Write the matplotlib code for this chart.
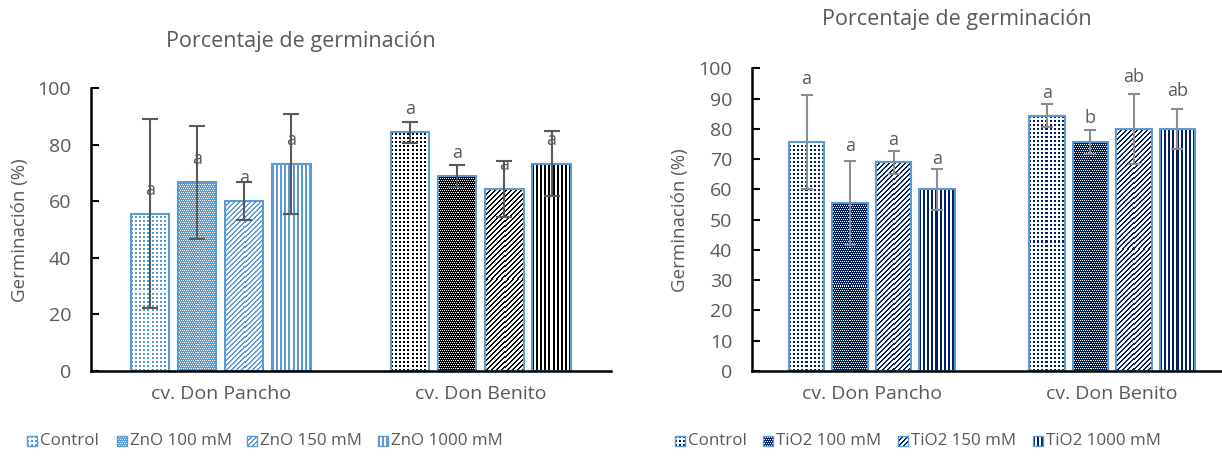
import numpy as np
import matplotlib
matplotlib.use('Agg')
import matplotlib.pyplot as plt
from matplotlib.colors import ListedColormap
from matplotlib.patches import Rectangle

plt.rcParams['font.family'] = ['Open Sans', 'DejaVu Sans']

# germination data (%), one list per treatment: [Don Pancho, Don Benito]
cultivars = ['cv. Don Pancho', 'cv. Don Benito']

zno_names = ['Control', 'ZnO 100 mM', 'ZnO 150 mM', 'ZnO 1000 mM']
zno_mean = [[55.6, 84.4], [66.7, 68.9], [60.0, 64.4], [73.3, 73.3]]
zno_err = [[33.4, 3.8], [20.0, 3.8], [6.7, 10.0], [17.6, 11.5]]
zno_letters = [['a', 'a'], ['a', 'a'], ['a', 'a'], ['a', 'a']]
zno_letter_y = [[64.0, 92.6], [74.9, 77.0], [68.2, 72.8], [81.6, 81.6]]

tio_names = ['Control', 'TiO2 100 mM', 'TiO2 150 mM', 'TiO2 1000 mM']
tio_mean = [[75.6, 84.4], [55.6, 75.6], [68.9, 80.0], [60.0, 80.0]]
tio_err = [[15.5, 3.8], [13.9, 3.9], [3.8, 11.6], [6.7, 6.7]]
tio_letters = [['a', 'a'], ['a', 'b'], ['a', 'ab'], ['a', 'ab']]
tio_letter_y = [[96.6, 91.8], [74.3, 83.5], [76.2, 97.0], [70.0, 92.4]]

patterns = ['dots', 'checker', 'diag', 'vert']
edge_blue = '#5B9BD5'
navy = '#002060'
text_gray = '#595959'


def pattern(kind, h, w):
    # 1 = foreground colour, 0 = white
    r, c = np.mgrid[0:h, 0:w]
    if kind == 'dots':
        m = (r % 4 < 2) & (c % 4 < 2)
    elif kind == 'checker':
        m = ~((r % 2 == 0) & (c % 2 == (r // 2) % 2))
    elif kind == 'diag':
        m = ((c - r) % 5) < 2
    else:
        m = (c % 4) < 2
    return m.astype(float)


W, H = 1222, 458
fig = plt.figure(figsize=(W / 100, H / 100), dpi=100)
ax1 = fig.add_axes([0.0742, 0.19, 0.4258, 0.6172])
ax2 = fig.add_axes([0.6151, 0.19, 0.3934, 0.6609])

x = np.arange(len(cultivars))
step = 0.181
width = 0.147


def draw_panel(ax, names, means, errs, letters, letter_y, group_colors,
               err_color, capsize, ystep):
    ax.set_xlim(-0.5, 1.5)
    ax.set_ylim(0, 100)
    px_x = ax.bbox.width / 2.0
    px_y = ax.bbox.height / 100.0
    for i in range(len(names)):
        pos = x + (i - 1.5) * step
        for j in range(len(x)):
            h = means[i][j]
            img = pattern(patterns[i], int(round(h * px_y)),
                          int(round(width * px_x)))
            ax.imshow(img, extent=(pos[j] - width / 2, pos[j] + width / 2, 0, h),
                      origin='lower', cmap=ListedColormap(['white', group_colors[j]]),
                      vmin=0, vmax=1, interpolation='none', aspect='auto',
                      zorder=1)
            ax.bar(pos[j], h, width, fill=False, edgecolor=edge_blue,
                   linewidth=1.5, zorder=2)
        ax.errorbar(pos, means[i], yerr=errs[i], fmt='none', ecolor=err_color,
                    elinewidth=1.5, capsize=capsize, capthick=1.5, zorder=3)
        for j in range(len(x)):
            ax.text(pos[j], letter_y[i][j], letters[i][j], ha='center',
                    va='center', fontsize=13, color=text_gray, zorder=4)
    ax.set_xlim(-0.5, 1.5)
    ax.set_ylim(0, 100)
    ax.set_yticks(np.arange(0, 101, ystep))
    ax.set_xticks(x)
    ax.set_xticklabels(cultivars, fontsize=14, color=text_gray)
    ax.tick_params(axis='x', length=0, pad=10)
    ax.tick_params(axis='y', direction='in', length=6, width=1.5,
                   labelsize=14, labelcolor=text_gray, pad=14)
    for side in ['top', 'right']:
        ax.spines[side].set_visible(False)
    ax.spines['left'].set_linewidth(1.8)
    ax.spines['bottom'].set_linewidth(1.8)


draw_panel(ax1, zno_names, zno_mean, zno_err, zno_letters, zno_letter_y,
           [edge_blue, 'black'], '#595959', 6, 20)
draw_panel(ax2, tio_names, tio_mean, tio_err, tio_letters, tio_letter_y,
           [navy, navy], '#8C8C8C', 4, 10)

# axis titles and chart titles
fig.text(20 / W, 1 - 230 / H, 'Germinación (%)', rotation=90, ha='center',
         va='center', fontsize=13.5, color=text_gray)
fig.text(680 / W, 1 - 220 / H, 'Germinación (%)', rotation=90, ha='center',
         va='center', fontsize=13.5, color=text_gray)
fig.text(301 / W, 1 - 41 / H, 'Porcentaje de germinación', ha='center',
         va='center', fontsize=15.5, color=text_gray)
fig.text(957 / W, 1 - 20 / H, 'Porcentaje de germinación', ha='center',
         va='center', fontsize=15.5, color=text_gray)


# legend rows: pattern swatch followed by the label
def legend_row(names, color, xs, y):
    for name, kind, xp in zip(names, patterns, xs):
        sw = pattern(kind, 10, 10)
        fig.figimage(sw, xo=xp, yo=H - y - 5, cmap=ListedColormap(['white', color]),
                     vmin=0, vmax=1, origin='lower', zorder=2)
        fig.add_artist(Rectangle((xp / W, (H - y - 5) / H), 10 / W, 10 / H,
                                 transform=fig.transFigure, fill=False,
                                 edgecolor=edge_blue, linewidth=1, zorder=3))
        fig.text((xp + 13) / W, 1 - y / H, name, ha='left', va='center',
                 fontsize=12.2, color=text_gray)


legend_row(zno_names, edge_blue, [27, 117, 247, 378], 441)
legend_row(tio_names, navy, [675, 763, 898, 1033], 441)

fig.savefig('out.png', dpi=100)
